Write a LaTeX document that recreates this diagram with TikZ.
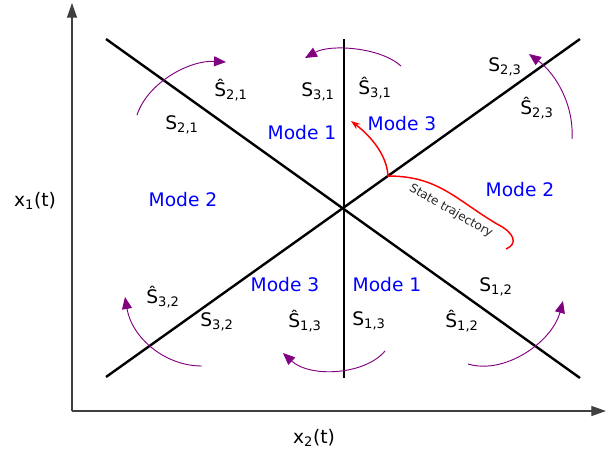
\documentclass[tikz,border=0pt]{standalone}
\usepackage{fontspec}
\setmainfont{DejaVu Sans}
\usepackage{xcolor}
\usetikzlibrary{arrows.meta}

\definecolor{arcpurple}{RGB}{128,0,128}

\begin{document}
\begin{tikzpicture}[x=0.75pt, y=-0.75pt,
  every node/.style={font=\fontsize{14}{16}\selectfont},
  axisline/.style={draw=black!75, line width=0.9pt,
                   -{Triangle[length=11pt, width=7.5pt]}},
  surface/.style={draw=black, line width=1.8pt},
  jump/.style={draw=arcpurple, line width=0.7pt,
               -{Triangle[length=9pt, width=7.5pt]}},
  mode/.style={text=blue},
  traj/.style={draw=red, line width=1.1pt, -{Stealth[length=7pt, width=5pt]}}]

  \useasboundingbox (0,0) rectangle (606,455);

  % axes
  \coordinate (org) at (72,411);
  \coordinate (ytop) at (72,3);
  \coordinate (xend) at (606,411);
  \draw[axisline] (org) -- (ytop);
  \draw[axisline] (org) -- (xend);
  \node (ylab) at (35,201) {x\textsubscript{1}(t)};
  \node (xlab) at (314,438) {x\textsubscript{2}(t)};

  % switching surfaces
  \coordinate (tl) at (106,39);
  \coordinate (br) at (580,378);
  \coordinate (bl) at (106,377);
  \coordinate (tr) at (580,39);
  \coordinate (vt) at (344,39);
  \coordinate (vb) at (344,378);
  \draw[surface] (tl) -- (br);
  \draw[surface] (bl) -- (tr);
  \draw[surface] (vt) -- (vb);

  % surface labels
  \node (h21) at (231,90)  {Ŝ\textsubscript{2,1}};
  \node (s21) at (182,125) {S\textsubscript{2,1}};
  \node (s31) at (318,92)  {S\textsubscript{3,1}};
  \node (h31) at (375,88)  {Ŝ\textsubscript{3,1}};
  \node (s23) at (505,67)  {S\textsubscript{2,3}};
  \node (h23) at (537,108) {Ŝ\textsubscript{2,3}};
  \node (h32) at (163,297) {Ŝ\textsubscript{3,2}};
  \node (s32) at (217,322) {S\textsubscript{3,2}};
  \node (h13) at (305,321) {Ŝ\textsubscript{1,3}};
  \node (s13) at (369,321) {S\textsubscript{1,3}};
  \node (h12) at (462,321) {Ŝ\textsubscript{1,2}};
  \node (s12) at (496,287) {S\textsubscript{1,2}};

  % modes
  \node[mode] (m1a) at (302,133) {Mode 1};
  \node[mode] (m3a) at (402,124) {Mode 3};
  \node[mode] (m2a) at (183,200) {Mode 2};
  \node[mode] (m2b) at (520,190) {Mode 2};
  \node[mode] (m3b) at (285,285) {Mode 3};
  \node[mode] (m1b) at (387,285) {Mode 1};

  % jumps across the surfaces
  \coordinate (j1s) at (137,115);  \coordinate (j1e) at (226,62);
  \coordinate (j2s) at (401,66);   \coordinate (j2e) at (305,58);
  \coordinate (j3s) at (572,139);  \coordinate (j3e) at (529,54);
  \coordinate (j4s) at (202,366);  \coordinate (j4e) at (125,297);
  \coordinate (j5s) at (385,351);  \coordinate (j5e) at (283,353);
  \coordinate (j6s) at (468,364);  \coordinate (j6e) at (563,301);
  \draw[jump] (j1s) .. controls (148,82) and (190,60) .. (j1e);
  \draw[jump] (j2s) .. controls (380,47) and (330,44) .. (j2e);
  \draw[jump] (j3s) .. controls (574,105) and (556,74) .. (j3e);
  \draw[jump] (j4s) .. controls (165,366) and (132,338) .. (j4e);
  \draw[jump] (j5s) .. controls (365,375) and (310,378) .. (j5e);
  \draw[jump] (j6s) .. controls (505,375) and (552,342) .. (j6e);

  % state trajectory
  \coordinate (t0) at (506,249);
  \coordinate (t1) at (497,224);
  \coordinate (hit) at (388,176);
  \coordinate (t2) at (351,121);
  \draw[traj] (t0) .. controls (518,244) and (515,233) .. (t1)
    .. controls (455,199) and (438,176) .. (hit)
    .. controls (387,156) and (372,137) .. (t2);
  \node[font=\fontsize{9}{11}\selectfont, text=black!85, rotate=-30]
    (trajlab) at (451,211) {State trajectory};
\end{tikzpicture}
\end{document}
